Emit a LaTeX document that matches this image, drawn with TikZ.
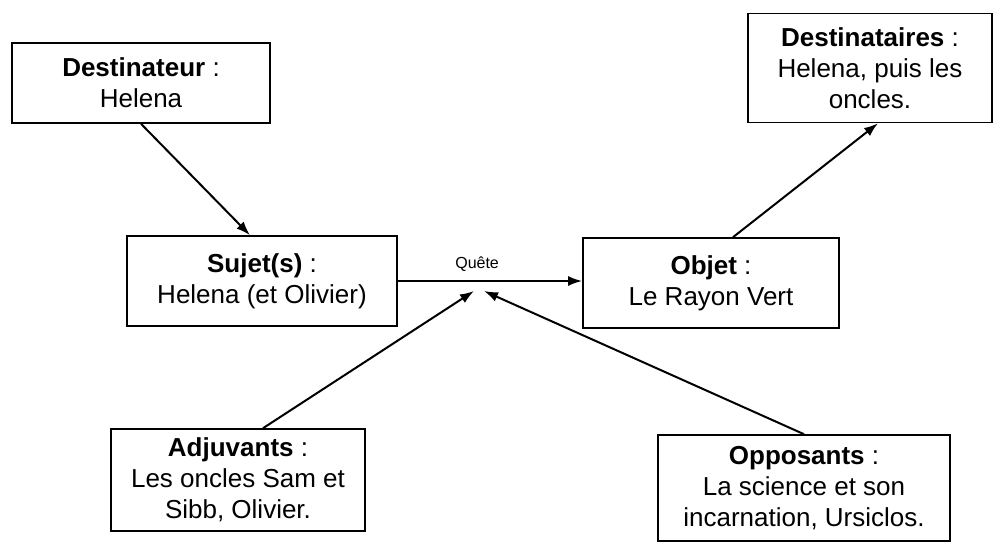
\documentclass[tikz,border=0pt]{standalone}
\usepackage{fontspec}
\setmainfont{Liberation Sans}
\usetikzlibrary{arrows.meta}

\begin{document}
\begin{tikzpicture}[x=1pt, y=-1pt,
    actant/.style = {draw, line width=1.6pt, align=center, inner sep=0pt,
        font=\fontsize{26}{31}\selectfont},
    fleche/.style = {-{Latex[length=14pt, width=10pt]}, line width=2pt}]
        \useasboundingbox (0,0) rectangle (995,544);

        \node[actant, minimum width=258pt, minimum height=80pt] (destinateur) at (141,83) {\textbf{Destinateur} :\\Helena};
        \node[actant, minimum width=244pt, minimum height=109pt] (destinataires) at (870,68) {\textbf{Destinataires} :\\Helena, puis les\\oncles.};
        \node[actant, minimum width=270pt, minimum height=90pt] (sujet) at (262,281) {\textbf{Sujet(s)} :\\Helena (et Olivier)};
        \node[actant, minimum width=256pt, minimum height=90pt] (objet) at (711,283) {\textbf{Objet} :\\Le Rayon Vert};
        \node[actant, minimum width=254pt, minimum height=102pt] (adjuvants) at (238,480) {\textbf{Adjuvants} :\\Les oncles Sam et\\Sibb, Olivier.};
        \node[actant, minimum width=292pt, minimum height=106pt] (opposants) at (804,488) {\textbf{Opposants} :\\La science et son\\incarnation, Ursiclos.};

        \coordinate (aideA) at (474,291);
        \coordinate (aideB) at (484,291);

        \draw[fleche] (destinateur.south) -- ([xshift=-12pt]sujet.north);
        \draw[fleche] (sujet.east) -- (sujet.east -| objet.west) node[pos=0.43, above=5pt, font=\fontsize{16}{19}\selectfont] {Quête};
        \draw[fleche] ([xshift=22pt]objet.north) -- ([xshift=8pt]destinataires.south);
        \draw[fleche] ([xshift=25pt]adjuvants.north) -- (aideA);
        \draw[fleche] (opposants.north) -- (aideB);
\end{tikzpicture}
\end{document}
